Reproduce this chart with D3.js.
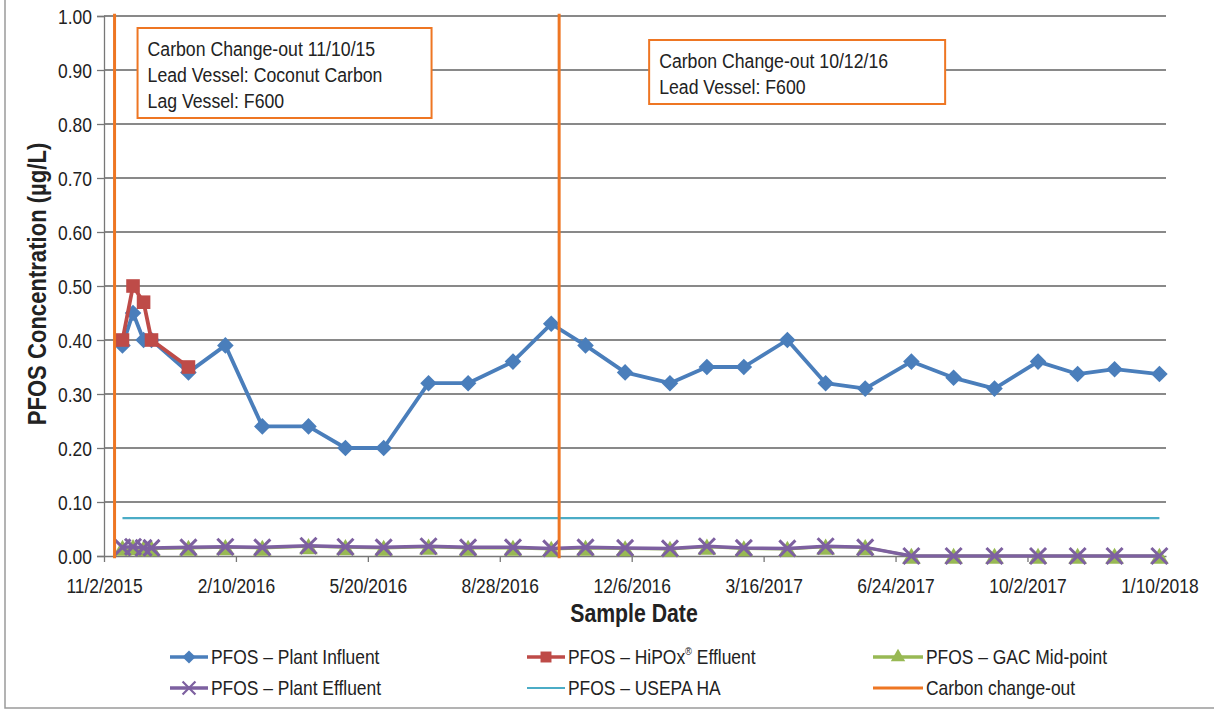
<!DOCTYPE html>
<html>
<head>
<meta charset="utf-8">
<script src="https://cdn.jsdelivr.net/npm/d3@7.9.0/dist/d3.min.js"></script>
<style>
  body { margin: 0; background: #fff; }
  svg { display: block; font-family: "Liberation Sans", Arial, sans-serif; }
</style>
</head>
<body>
<svg id="chart" width="1214" height="711"></svg>
<script>
// ---- data ----
const sampleDates = ['11/16/2015', '11/24/2015', '12/2/2015', '12/8/2015', '1/5/2016', '2/2/2016',
  '3/1/2016', '4/5/2016', '5/3/2016', '6/1/2016', '7/5/2016', '8/4/2016', '9/7/2016', '10/6/2016',
  '11/1/2016', '12/1/2016', '1/4/2017', '2/1/2017', '3/1/2017', '4/3/2017', '5/2/2017', '6/1/2017',
  '7/6/2017', '8/7/2017', '9/7/2017', '10/10/2017', '11/9/2017', '12/7/2017', '1/10/2018'];
const influent = [0.39, 0.45, 0.40, 0.40, 0.34, 0.39, 0.24, 0.24, 0.20, 0.20, 0.32, 0.32, 0.36, 0.43,
  0.39, 0.34, 0.32, 0.35, 0.35, 0.40, 0.32, 0.31, 0.36, 0.33, 0.31, 0.36, 0.337, 0.346, 0.337];
const gacMid = [0.015, 0.016, 0.014, 0.014, 0.015, 0.016, 0.015, 0.018, 0.016, 0.015, 0.017, 0.015,
  0.015, 0.013, 0.015, 0.014, 0.013, 0.017, 0.014, 0.013, 0.017, 0.016, 0.0, 0.0, 0.0, 0.0, 0.0, 0.0, 0.0];
const effluent = [0.016, 0.017, 0.015, 0.015, 0.016, 0.017, 0.016, 0.019, 0.017, 0.016, 0.018, 0.016,
  0.016, 0.014, 0.016, 0.015, 0.014, 0.018, 0.015, 0.014, 0.018, 0.016, 0.0, 0.0, 0.0, 0.0, 0.0, 0.0, 0.0];

const hipoxDates = ['11/16/2015', '11/24/2015', '12/2/2015', '12/8/2015', '1/5/2016'];
const hipox = [0.40, 0.50, 0.47, 0.40, 0.35];

const haDates = ['11/16/2015', '1/10/2018'];
const haValues = [0.07, 0.07];

const changeDates = ['11/10/2015', '10/12/2016'];
const changeNotes = [
  ['Carbon Change-out 11/10/15', 'Lead Vessel: Coconut Carbon', 'Lag Vessel: F600'],
  ['Carbon Change-out 10/12/16', 'Lead Vessel: F600']
];

const xTickLabels = ['11/2/2015', '2/10/2016', '5/20/2016', '8/28/2016', '12/6/2016',
  '3/16/2017', '6/24/2017', '10/2/2017', '1/10/2018'];
const yTicks = [0, 0.1, 0.2, 0.3, 0.4, 0.5, 0.6, 0.7, 0.8, 0.9, 1.0];

// ---- setup ----
const parse = d3.timeParse('%m/%d/%Y');
const pair = (dates, vals) => dates.map((d, i) => ({ date: parse(d), value: vals[i] }));

const colors = {
  influent: '#4a7ebb', hipox: '#be4b48', gac: '#98b954',
  effluent: '#7d60a0', ha: '#4bacc6', change: '#ee7623'
};

const SX = 0.85; // condensed look of the original font
const svg = d3.select('#chart');
const plotL = 104, plotR = 1166, plotT = 16, plotB = 556;

const x = d3.scaleTime()
  .domain([parse('11/2/2015'), d3.timeDay.offset(parse('11/2/2015'), 805)])
  .range([plotL, plotR]);
const y = d3.scaleLinear().domain([0, 1]).range([plotB, plotT]);

function label(g, px, py, s, size, anchor = 'start', weight = 'normal', rot = 0) {
  return g.append('text')
    .attr('transform', `translate(${px},${py})${rot ? ` rotate(${rot})` : ''} scale(${SX},1)`)
    .attr('font-size', size)
    .attr('font-weight', weight)
    .attr('text-anchor', anchor)
    .attr('fill', '#222')
    .text(s);
}

// page border (scan frame)
svg.append('path').attr('d', 'M5,0V708H1214').attr('fill', 'none')
  .attr('stroke', '#9a9a9a').attr('stroke-width', 1.5);

// gridlines
svg.append('g').selectAll('line').data(yTicks.slice(1)).join('line')
  .attr('x1', plotL).attr('x2', plotR)
  .attr('y1', d => y(d)).attr('y2', d => y(d))
  .attr('stroke', '#626262').attr('stroke-width', 1.4);

// y axis
const yAxis = svg.append('g').attr('transform', `translate(${plotL},0)`)
  .call(d3.axisLeft(y).tickValues(yTicks).tickSize(7).tickFormat(d3.format('.2f')));
yAxis.select('.domain').attr('stroke', '#777').attr('stroke-width', 1.3);
yAxis.selectAll('.tick line').attr('stroke', '#777').attr('stroke-width', 1.3);
yAxis.selectAll('.tick text').remove();
yAxis.selectAll('.tick').each(function (d) {
  label(d3.select(this), -12, 7, d3.format('.2f')(d), 20.5, 'end');
});

// x axis
const xAxis = svg.append('g').attr('transform', `translate(0,${plotB})`)
  .call(d3.axisBottom(x).tickValues(xTickLabels.map(parse)).tickSize(6).tickSizeOuter(0).tickFormat(''));
xAxis.select('.domain').attr('stroke', '#777').attr('stroke-width', 1.3);
xAxis.selectAll('.tick line').attr('stroke', '#777').attr('stroke-width', 1.3);
xAxis.selectAll('.tick').each(function (d, i) {
  label(d3.select(this), 0, 37, xTickLabels[i], 20.5, 'middle');
});

// axis titles
label(svg, 46, 284, 'PFOS Concentration (µg/L)', 26, 'middle', 'bold', -90);
label(svg, 634, 622, 'Sample Date', 25, 'middle', 'bold');

// series
const line = d3.line().x(d => x(d.date)).y(d => y(d.value));

const influentData = pair(sampleDates, influent);
const hipoxData = pair(hipoxDates, hipox);
const gacData = pair(sampleDates, gacMid);
const effData = pair(sampleDates, effluent);
const haData = pair(haDates, haValues);

function drawLine(data, color, w) {
  svg.append('path').datum(data).attr('d', line)
    .attr('fill', 'none').attr('stroke', color).attr('stroke-width', w)
    .attr('stroke-linejoin', 'round');
}
const sym = {
  diamond: d3.symbol().type(d3.symbolDiamond2).size(175),
  square: d3.symbol().type(d3.symbolSquare).size(185),
  triangle: d3.symbol().type(d3.symbolTriangle).size(150),
  cross: d3.symbol().type(d3.symbolX).size(170)
};
function drawMarkers(data, shape, color, stroke, dy = 0) {
  svg.append('g').selectAll('path').data(data).join('path')
    .attr('transform', d => `translate(${x(d.date)},${y(d.value) + dy})`)
    .attr('d', sym[shape])
    .attr('fill', stroke ? 'none' : color)
    .attr('stroke', color)
    .attr('stroke-width', stroke ? 3 : 0);
}

drawLine(influentData, colors.influent, 3.8);
drawMarkers(influentData, 'diamond', colors.influent);
drawLine(hipoxData, colors.hipox, 3.8);
drawMarkers(hipoxData, 'square', colors.hipox);
drawLine(gacData, colors.gac, 3);
drawMarkers(gacData, 'triangle', colors.gac, false, 2.5);
drawLine(effData, colors.effluent, 3.5);
drawMarkers(effData, 'cross', colors.effluent, true);
drawLine(haData, colors.ha, 2.2);

// carbon change-out lines
svg.append('g').selectAll('line').data(changeDates.map(parse)).join('line')
  .attr('x1', d => x(d)).attr('x2', d => x(d))
  .attr('y1', y(1.004)).attr('y2', y(-0.004))
  .attr('stroke', colors.change).attr('stroke-width', 3);

// annotation boxes
const boxes = [
  { dx: 23, y0: 28, w: 294 },
  { dx: 90, y0: 40, w: 296 }
];
changeDates.forEach((d, i) => {
  const bx = x(parse(d)) + boxes[i].dx;
  const lines = changeNotes[i];
  const g = svg.append('g');
  g.append('rect').attr('x', bx).attr('y', boxes[i].y0)
    .attr('width', boxes[i].w).attr('height', 12 + lines.length * 26)
    .attr('fill', '#fff').attr('stroke', colors.change).attr('stroke-width', 2);
  lines.forEach((s, j) => label(g, bx + 10, boxes[i].y0 + 28 + j * 26, s, 20.8, 'start'));
});

// legend
const legendItems = [
  { name: 'PFOS – Plant Influent', color: colors.influent, shape: 'diamond', col: 0, row: 0 },
  { name: 'PFOS – HiPOx', sup: '®', after: ' Effluent', color: colors.hipox, shape: 'square', col: 1, row: 0 },
  { name: 'PFOS – GAC Mid-point', color: colors.gac, shape: 'triangle', col: 2, row: 0 },
  { name: 'PFOS – Plant Effluent', color: colors.effluent, shape: 'cross', col: 0, row: 1 },
  { name: 'PFOS – USEPA HA', color: colors.ha, col: 1, row: 1 },
  { name: 'Carbon change-out', color: colors.change, col: 2, row: 1 }
];
const colX = [170, 527, 873];
const rowY = [657, 688];
legendItems.forEach(it => {
  const g = svg.append('g').attr('transform', `translate(${colX[it.col]},${rowY[it.row]})`);
  const w = it.col === 2 ? 50 : 38;
  g.append('line').attr('x1', 0).attr('x2', w).attr('stroke', it.color)
    .attr('stroke-width', it.shape ? 3.5 : (it.color === colors.ha ? 2 : 3));
  if (it.shape) {
    const small = { diamond: 110, square: 120, triangle: 90, cross: 110 }[it.shape];
    g.append('path').attr('transform', `translate(${w / 2},0)`)
      .attr('d', d3.symbol().type(sym[it.shape].type()).size(small))
      .attr('fill', it.shape === 'cross' ? 'none' : it.color)
      .attr('stroke', it.color).attr('stroke-width', it.shape === 'cross' ? 2.2 : 0);
  }
  const t = label(g, w + 3, 7, it.name, 20.5, 'start');
  if (it.sup) {
    t.append('tspan').attr('font-size', 11).attr('dy', -9).text(it.sup);
    t.append('tspan').attr('dy', 9).text(it.after);
  }
});
</script>
</body>
</html>
